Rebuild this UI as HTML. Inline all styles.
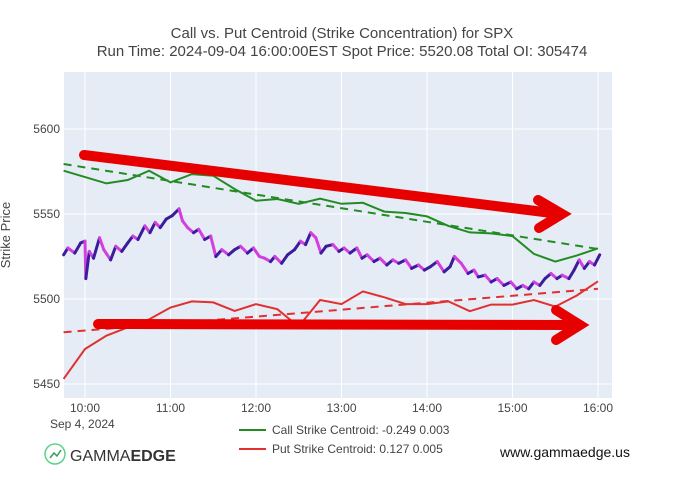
<!DOCTYPE html>
<html><head><meta charset="utf-8"><style>
body{margin:0;background:#fff;width:680px;height:488px;overflow:hidden;font-family:"Liberation Sans","DejaVu Sans",sans-serif}
</style></head><body>
<svg id="c" width="680" height="488" xmlns="http://www.w3.org/2000/svg">
<text x="342" y="38" text-anchor="middle" font-size="15" fill="#444">Call vs. Put Centroid (Strike Concentration) for SPX</text>
<text x="342" y="56" text-anchor="middle" font-size="15" fill="#444">Run Time: 2024-09-04 16:00:00EST Spot Price: 5520.08 Total OI: 305474</text>
<rect x="64" y="72" width="548" height="326" fill="#e5ecf6"/>
<g id="grid"></g>
<g id="series"></g>
<text transform="translate(10,235) rotate(-90)" text-anchor="middle" font-size="13" fill="#444">Strike Price</text>
<text x="50" y="428" font-size="12" fill="#444">Sep 4, 2024</text>
<g>
<line x1="239" y1="430" x2="266" y2="430" stroke="#228b22" stroke-width="2"/>
<text x="272" y="434" font-size="12" fill="#444">Call Strike Centroid: -0.249 0.003</text>
<line x1="239" y1="449" x2="266" y2="449" stroke="#e03030" stroke-width="2"/>
<text x="272" y="453" font-size="12" fill="#444">Put Strike Centroid: 0.127 0.005</text>
</g>
<g>
<circle cx="55" cy="454" r="10" fill="none" stroke="#5fd28a" stroke-width="1.5"/>
<polyline points="50,458 54,453 57,456 61,450" fill="none" stroke="#3a9a5c" stroke-width="1.5"/>
<text x="70" y="461" font-size="16" fill="#333">GAMMA<tspan font-weight="bold">EDGE</tspan></text>
</g>
<text x="500" y="457" font-size="14" fill="#111">www.gammaedge.us</text>
<g stroke="#e60000" stroke-width="10" stroke-linecap="round" fill="none">
<line x1="84" y1="155" x2="560" y2="214"/>
<polyline points="538,200 562,214 539,228"/>
<line x1="98" y1="324" x2="580" y2="325"/>
<polyline points="556,310 580,325 556,340"/>
</g>
</svg>
<script>
const yTicks=[5450,5500,5550,5600];
const xTickLabels=["10:00","11:00","12:00","13:00","14:00","15:00","16:00"];
const callT=[-0.25,0.25,0.5,0.75,1,1.25,1.5,1.75,2,2.25,2.5,2.75,3,3.25,3.5,3.75,4,4.25,4.5,4.75,5,5.25,5.5,5.75,6];
const callV=[5575.5,5568,5570,5575.5,5568.6,5573.5,5572.5,5564.7,5557.8,5558.8,5556,5559,5556,5556.6,5551.4,5550.6,5548.6,5543,5539.2,5538.6,5537,5526.5,5522,5525.5,5529.8];
const putT=[-0.25,0,0.25,0.5,0.75,1,1.25,1.5,1.75,2,2.25,2.42,2.55,2.75,3,3.25,3.5,3.75,4,4.25,4.5,4.75,5,5.25,5.5,5.75,6];
const putV=[5453,5470.6,5478.4,5483.3,5488,5495,5498.6,5498,5493,5497,5494,5487,5487,5499.4,5497,5504.5,5501,5497,5497,5498.6,5492.8,5496.7,5496.7,5499.4,5495.5,5502,5510.4];
const callTrend=[5579.4,5529.4];
const putTrend=[5480.4,5506];
const trendT=[-0.25,6];
const priceT=[-0.25,-0.2,-0.12,-0.05,0,0.01,0.05,0.1,0.17,0.22,0.3,0.36,0.43,0.5,0.56,0.62,0.7,0.76,0.82,0.88,0.95,1.02,1.1,1.14,1.2,1.27,1.33,1.4,1.47,1.53,1.6,1.68,1.75,1.82,1.9,1.97,2.04,2.1,2.17,2.22,2.3,2.37,2.45,2.52,2.58,2.64,2.7,2.76,2.82,2.9,2.97,3.03,3.1,3.18,3.24,3.3,3.38,3.45,3.53,3.6,3.67,3.75,3.82,3.9,3.97,4.04,4.12,4.2,4.27,4.32,4.4,4.48,4.55,4.6,4.68,4.75,4.82,4.9,4.98,5.05,5.12,5.19,5.25,5.32,5.38,5.45,5.52,5.58,5.66,5.72,5.78,5.84,5.9,5.96,6.02];
const priceV=[5526,5530,5527,5533,5534,5512,5528,5524,5536,5529,5523,5531,5528,5533,5537,5535,5543,5539,5545,5542,5547,5549,5553,5546,5542,5539,5541,5535,5537,5525,5529,5526,5529,5531,5527,5530,5525,5524,5522,5525,5521,5526,5529,5534,5532,5539,5536,5527,5531,5532,5528,5530,5527,5530,5524,5526,5522,5524,5520,5523,5521,5523,5518,5520,5517,5519,5522,5516,5519,5525,5521,5515,5517,5513,5514,5510,5512,5508,5510,5506,5508,5506,5510,5508,5512,5515,5512,5514,5512,5517,5523,5518,5522,5520,5526];
const NS="http://www.w3.org/2000/svg";
const X=t=>85+t*85.5;
const Y=v=>129-(v-5600)*1.7;
function mk(tag,attrs,parent){const e=document.createElementNS(NS,tag);for(const k in attrs)e.setAttribute(k,attrs[k]);parent.appendChild(e);return e;}
const grid=document.getElementById('grid'),svg=document.getElementById('c'),ser=document.getElementById('series');
yTicks.forEach(v=>{
 const l=mk('line',{x1:64,x2:612,y1:Y(v),y2:Y(v),stroke:'#fff','stroke-width':1},grid);
 
 
 const t=mk('text',{x:60,y:Y(v)+4,'text-anchor':'end','font-size':12,fill:'#444'},svg);
 t.textContent=v;
 
 
});
xTickLabels.forEach((s,i)=>{
 const l=mk('line',{x1:X(i),x2:X(i),y1:72,y2:398,stroke:'#fff','stroke-width':1},grid);
 
 
 const t=mk('text',{x:X(i),y:412,'text-anchor':'middle','font-size':12,fill:'#444'},svg);
 t.textContent=s;
 
 
});
function pts(T,V){return T.map((t,i)=>X(t).toFixed(1)+','+Y(V[i]).toFixed(1)).join(' ');}
let e;
e=mk('polyline',{points:pts(trendT,callTrend),fill:'none',stroke:'#228b22','stroke-width':2,'stroke-dasharray':'8,6'},ser);


e=mk('polyline',{points:pts(trendT,putTrend),fill:'none',stroke:'#e03030','stroke-width':2,'stroke-dasharray':'8,6'},ser);


e=mk('polyline',{points:pts(callT,callV),fill:'none',stroke:'#228b22','stroke-width':2},ser);


e=mk('polyline',{points:pts(putT,putV),fill:'none',stroke:'#e03030','stroke-width':2},ser);


for(let i=1;i<priceT.length;i++){
 const up=priceV[i]>=priceV[i-1];
 const s=mk('line',{x1:X(priceT[i-1]),y1:Y(priceV[i-1]),x2:X(priceT[i]),y2:Y(priceV[i]),stroke:up?'#3a1c9c':'#d43ee0','stroke-width':3,'stroke-linecap':'round'},ser);
 
 
}
</script>
</body></html>
